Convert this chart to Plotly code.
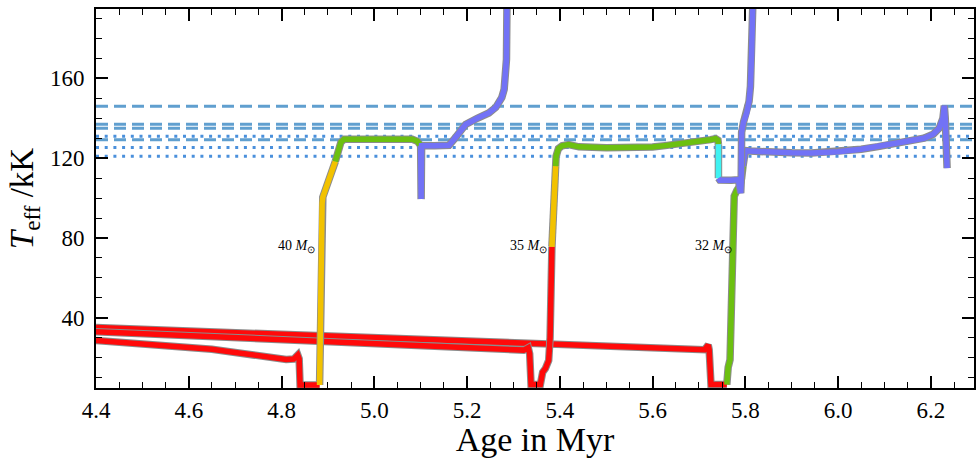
import plotly.graph_objects as go

# Horizontal reference temperatures in kK
dashed_teff = [146.0, 137.0, 135.0, 129.3]
dotted_teff = [131.0, 125.4, 121.0]
ref_age = [4.4, 6.3]

# ---- 40 Msun track ----
age_40_red = [4.40, 4.50, 4.60, 4.65, 4.70, 4.75, 4.78, 4.81, 4.826, 4.832, 4.835, 4.838, 4.839, 4.840, 4.882]
teff_40_red = [28.6, 27.1, 25.5, 24.2, 22.6, 20.8, 19.7, 19.1, 19.3, 20.4, 21.4, 19.5, 10.0, 6.3, 6.3]
age_40_yel = [4.882, 4.883, 4.886, 4.8875, 4.889, 4.892, 4.904, 4.916]
teff_40_yel = [6.3, 35.9, 68.9, 97.4, 100.5, 102.5, 111.0, 118.4]
age_40_grn = [4.916, 4.922, 4.928, 4.935, 4.98, 5.03, 5.082, 5.093, 5.100]
teff_40_grn = [118.4, 123.5, 128.0, 129.5, 129.4, 129.3, 129.5, 128.5, 126.3]
age_40_blu = [5.100, 5.1005, 5.101, 5.1015, 5.102, 5.13, 5.161, 5.172, 5.183, 5.197,
              5.222, 5.247, 5.262, 5.269, 5.275, 5.280, 5.285, 5.286]
teff_40_blu = [126.3, 110.0, 99.5, 110.0, 126.2, 126.2, 126.5, 129.5, 132.7, 136.9,
               140.0, 142.7, 145.5, 147.8, 150.5, 154.5, 169.6, 196.0]

# ---- 35 Msun track ----
age_35_red = [4.40, 4.60, 4.80, 5.00, 5.20, 5.30, 5.322, 5.329, 5.332, 5.335, 5.336, 5.338,
              5.358, 5.360, 5.363, 5.369, 5.376, 5.379, 5.381, 5.383]
teff_35_red = [33.0, 30.9, 28.8, 26.8, 24.6, 23.6, 23.8, 24.6, 25.0, 22.0, 8.0, 6.5,
               6.5, 10.0, 12.7, 14.6, 18.6, 30.0, 50.0, 75.6]
age_35_yel = [5.383, 5.386, 5.389, 5.391]
teff_35_yel = [75.6, 90.0, 99.0, 116.0]
age_35_grn = [5.391, 5.392, 5.397, 5.405, 5.419, 5.441, 5.50, 5.555, 5.60, 5.627,
              5.65, 5.699, 5.725, 5.736, 5.741, 5.742]
teff_35_grn = [116.0, 121.0, 124.8, 126.2, 126.8, 125.7, 125.3, 125.1, 125.6, 126.3,
               126.8, 128.5, 129.3, 129.8, 129.0, 127.0]
age_35_cyn = [5.742, 5.742]
teff_35_cyn = [127.0, 110.0]
age_35_blu = [5.742, 5.745, 5.770, 5.785, 5.789, 5.790, 5.791, 5.791, 5.792, 5.796,
              5.803, 5.808, 5.811, 5.8135, 5.816]
teff_35_blu = [110.0, 109.0, 108.9, 109.2, 104.0, 102.5, 108.0, 125.0, 133.0, 138.0,
               142.7, 148.5, 156.0, 172.0, 196.0]

# ---- 32 Msun track ----
age_32_red = [4.40, 4.60, 4.80, 5.00, 5.20, 5.40, 5.60, 5.70, 5.712, 5.717, 5.720,
              5.722, 5.724, 5.726, 5.760]
teff_32_red = [35.1, 33.4, 31.7, 30.0, 28.3, 26.6, 24.9, 23.8, 24.0, 25.5, 26.4,
               24.0, 8.0, 6.5, 6.5]
age_32_grn = [5.760, 5.761, 5.763, 5.767, 5.769, 5.771, 5.773, 5.776, 5.782, 5.788,
              5.792, 5.795]
teff_32_grn = [6.5, 12.0, 15.2, 19.0, 40.0, 70.0, 95.8, 101.0, 104.0, 106.0,
               110.0, 116.0]
age_32_blu = [5.795, 5.797, 5.800, 5.810, 5.850, 5.900, 5.943, 6.000, 6.050, 6.086,
              6.120, 6.158, 6.185, 6.205, 6.218, 6.226, 6.229, 6.231, 6.233, 6.235]
teff_32_blu = [116.0, 122.0, 123.8, 123.6, 123.0, 122.7, 122.6, 123.2, 124.5, 125.8,
               127.0, 128.5, 130.0, 132.0, 135.0, 140.0, 146.3, 140.0, 128.0, 115.0]

# Track labels
label_text = ["40 <i>M</i><sub>⊙</sub>", "35 <i>M</i><sub>⊙</sub>", "32 <i>M</i><sub>⊙</sub>"]
label_age = [4.877, 5.376, 5.776]
label_teff = [75.6, 75.6, 75.6]

RED, YEL, GRN, BLU, CYN = "#ff0a0a", "#f2c200", "#6cc010", "#7272f6", "#3ff2f2"
OUTLINE = "#8c8c8c"
SERIF = "Liberation Serif, Times New Roman, serif"

tracks = [
    [(age_32_red, teff_32_red, RED), (age_32_grn, teff_32_grn, GRN),
     (age_32_blu, teff_32_blu, BLU)],
    [(age_35_red, teff_35_red, RED), (age_35_yel, teff_35_yel, YEL),
     (age_35_grn, teff_35_grn, GRN), (age_35_cyn, teff_35_cyn, CYN),
     (age_35_blu, teff_35_blu, BLU)],
    [(age_40_red, teff_40_red, RED), (age_40_yel, teff_40_yel, YEL),
     (age_40_grn, teff_40_grn, GRN), (age_40_blu, teff_40_blu, BLU)],
]

fig = go.Figure()

for t in dashed_teff:
    fig.add_trace(go.Scatter(x=ref_age, y=[t, t], mode="lines", hoverinfo="skip",
                             line=dict(color="#609fcf", width=3, dash="12px,6px")))
for t in dotted_teff:
    fig.add_trace(go.Scatter(x=ref_age, y=[t, t], mode="lines", hoverinfo="skip",
                             line=dict(color="#4a90dc", width=3, dash="3px,5.7px")))

for segs in tracks:
    for ages, teffs, col in segs:
        fig.add_trace(go.Scatter(x=ages, y=teffs, mode="lines", hoverinfo="skip",
                                 line=dict(color=OUTLINE, width=7.5)))
    for ages, teffs, col in segs:
        fig.add_trace(go.Scatter(x=ages, y=teffs, mode="lines", hoverinfo="skip",
                                 line=dict(color=col, width=5.5)))

for txt, a, t in zip(label_text, label_age, label_teff):
    fig.add_annotation(x=a, y=t, text=txt, showarrow=False, xanchor="right",
                       yanchor="middle", font=dict(family=SERIF, size=14, color="black"))

axis_common = dict(
    showline=True, linecolor="black", linewidth=2, mirror="allticks",
    ticks="inside", ticklen=12, tickwidth=1.8, tickcolor="black",
    showgrid=False, zeroline=False,
    tickfont=dict(family=SERIF, size=23, color="black"),
)

fig.update_xaxes(
    range=[4.4, 6.293], tick0=4.4, dtick=0.2, tickformat=".1f",
    minor=dict(dtick=0.05, ticklen=6, tickwidth=1.2, tickcolor="black", ticks="inside"),
    title=dict(text="Age in Myr", standoff=2,
               font=dict(family=SERIF, size=34, color="black")),
    ticklabelstandoff=0,
    **axis_common,
)
fig.update_yaxes(
    range=[4.8, 194.8], tick0=0, dtick=40,
    minor=dict(dtick=10, ticklen=6, tickwidth=1.2, tickcolor="black", ticks="inside"),
    title=dict(text="<i>T</i><sub>eff</sub> /kK", standoff=6,
               font=dict(family=SERIF, size=33, color="black")),
    ticklabelstandoff=5,
    **axis_common,
)

fig.update_layout(
    width=976, height=458,
    margin=dict(l=96, r=0, t=9, b=70),
    paper_bgcolor="white", plot_bgcolor="white",
    showlegend=False,
)

fig.write_html("out.html")
